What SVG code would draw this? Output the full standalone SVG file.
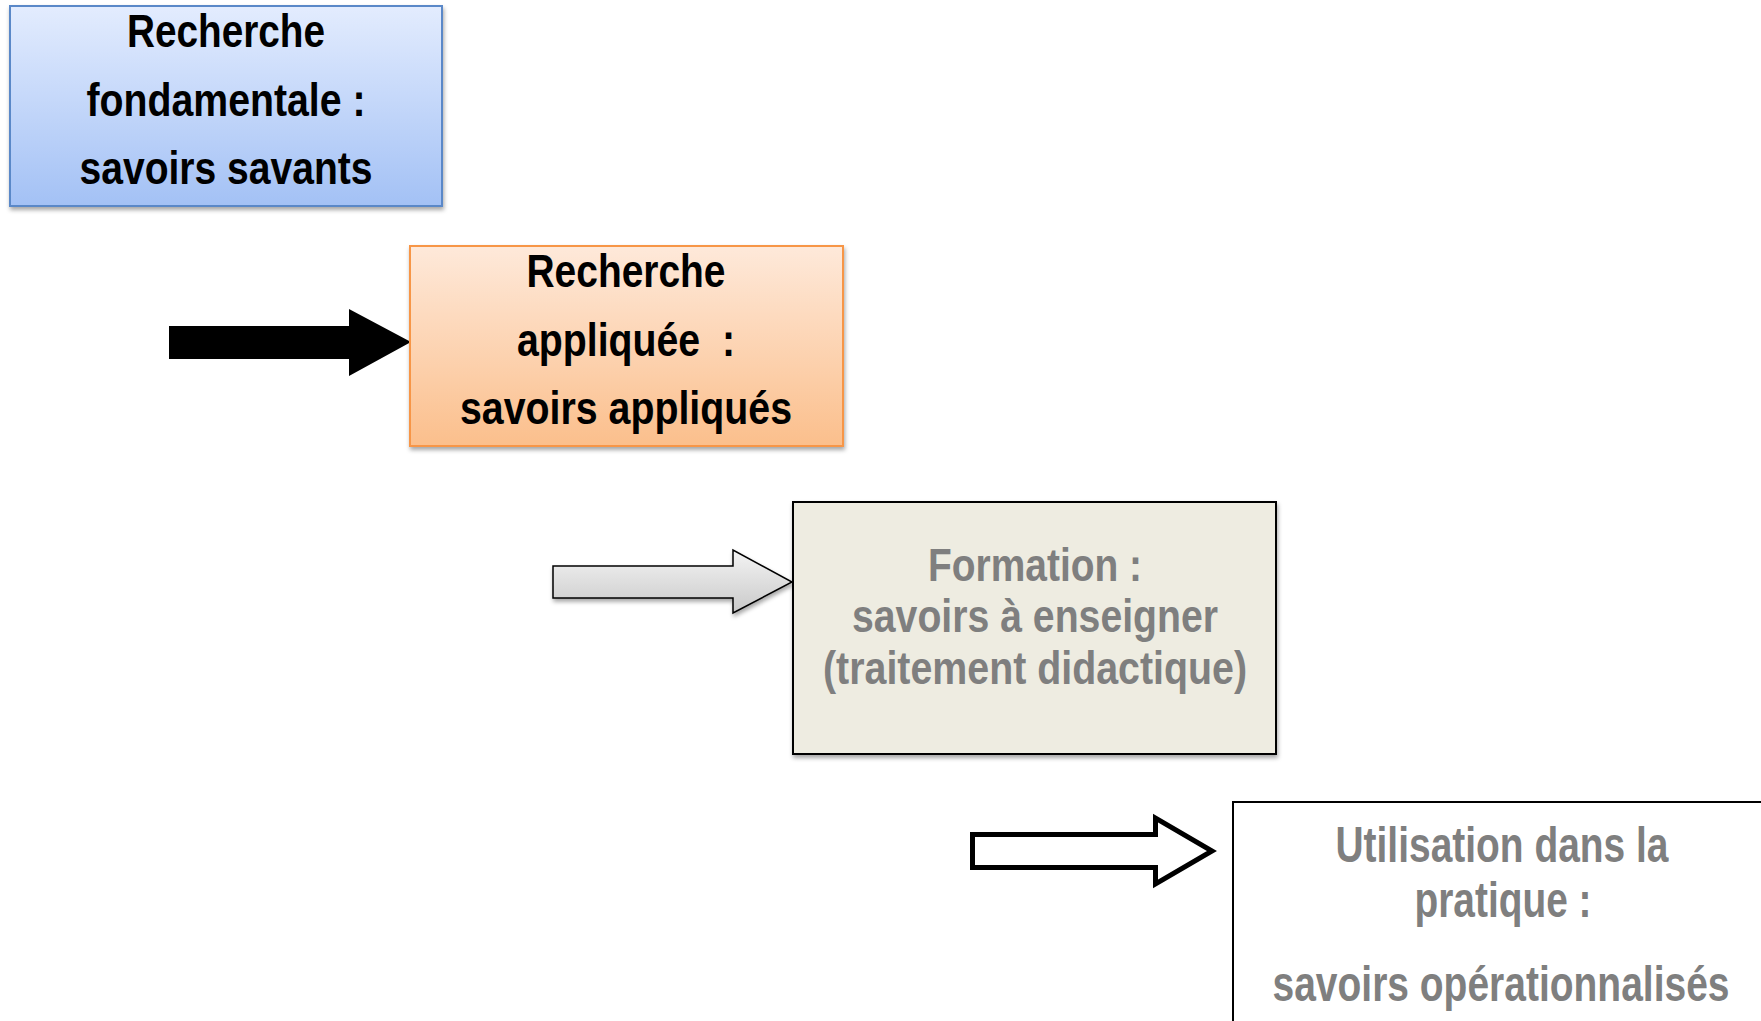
<svg xmlns="http://www.w3.org/2000/svg" width="1761" height="1021" viewBox="0 0 1761 1021">
  <style>
    .lbl { font-family: "Liberation Sans Narrow", "Liberation Sans", "Arial Narrow", Arial, sans-serif; font-weight: bold; font-size: 47px; text-anchor: middle; }
    .big { font-size: 50px; }
    .dark { fill: #000000; }
    .grey { fill: #7f7f7f; }
  </style>
  <defs>
    <linearGradient id="gBlue" x1="0" y1="0" x2="0" y2="1">
      <stop offset="0" stop-color="#e3ecfe"/>
      <stop offset="1" stop-color="#a3c1f5"/>
    </linearGradient>
    <linearGradient id="gOrange" x1="0" y1="0" x2="0" y2="1">
      <stop offset="0" stop-color="#fee9da"/>
      <stop offset="1" stop-color="#fbbf8c"/>
    </linearGradient>
    <linearGradient id="gGrey" x1="0" y1="0" x2="0" y2="1">
      <stop offset="0" stop-color="#f4f4f4"/>
      <stop offset="1" stop-color="#c9c9c9"/>
    </linearGradient>
    <filter id="shadow" x="-10%" y="-10%" width="120%" height="130%">
      <feDropShadow dx="1" dy="3" stdDeviation="2" flood-color="#000000" flood-opacity="0.35"/>
    </filter>
  </defs>

  <!-- connectors: block arrows leading into each stage -->
  <g id="connectors">
    <polygon id="arrow-1" points="169,326 349,326 349,309 411,342 349,376 349,359 169,359" fill="#000000"/>
    <polygon id="arrow-2" points="553,566 733,566 733,550 792,582 733,613 733,598 553,598" fill="url(#gGrey)" stroke="#000000" stroke-width="1.5" filter="url(#shadow)"/>
    <polygon id="arrow-3" points="972.5,834.5 1155.5,834.5 1155.5,818 1212,851 1155.5,884 1155.5,867.5 972.5,867.5" fill="#ffffff" stroke="#000000" stroke-width="5" stroke-linejoin="miter"/>
  </g>

  <!-- stage 1 -->
  <g id="node-fondamentale">
    <rect x="10" y="6" width="432" height="200" fill="url(#gBlue)" stroke="#5a88c8" stroke-width="2" filter="url(#shadow)"/>
    <text class="lbl dark" x="226" y="47" textLength="198" lengthAdjust="spacingAndGlyphs">Recherche</text>
    <text class="lbl dark" x="226" y="116" textLength="279" lengthAdjust="spacingAndGlyphs">fondamentale :</text>
    <text class="lbl dark" x="226" y="184" textLength="293" lengthAdjust="spacingAndGlyphs">savoirs savants</text>
  </g>

  <!-- stage 2 -->
  <g id="node-appliquee">
    <rect x="410" y="246" width="433" height="200" fill="url(#gOrange)" stroke="#f79646" stroke-width="2" filter="url(#shadow)"/>
    <text class="lbl dark" x="626" y="287" textLength="199" lengthAdjust="spacingAndGlyphs">Recherche</text>
    <text class="lbl dark" x="626" y="356" textLength="218" lengthAdjust="spacingAndGlyphs" xml:space="preserve">appliquée  :</text>
    <text class="lbl dark" x="626" y="424" textLength="332" lengthAdjust="spacingAndGlyphs">savoirs appliqués</text>
  </g>

  <!-- stage 3 -->
  <g id="node-formation">
    <rect x="793" y="502" width="483" height="252" fill="#eeece1" stroke="#000000" stroke-width="2" filter="url(#shadow)"/>
    <text class="lbl grey" x="1035" y="581" textLength="214" lengthAdjust="spacingAndGlyphs">Formation :</text>
    <text class="lbl grey" x="1035" y="632" textLength="366" lengthAdjust="spacingAndGlyphs">savoirs à enseigner</text>
    <text class="lbl grey" x="1035" y="684" textLength="424" lengthAdjust="spacingAndGlyphs">(traitement didactique)</text>
  </g>

  <!-- stage 4 (runs past the right and bottom edges) -->
  <g id="node-pratique">
    <rect x="1233" y="802" width="600" height="260" fill="#ffffff" stroke="#000000" stroke-width="2"/>
    <text class="lbl big grey" x="1502" y="862" textLength="333" lengthAdjust="spacingAndGlyphs">Utilisation dans la</text>
    <text class="lbl big grey" x="1503" y="917" textLength="177" lengthAdjust="spacingAndGlyphs">pratique :</text>
    <text class="lbl big grey" x="1501" y="1001" textLength="457" lengthAdjust="spacingAndGlyphs">savoirs opérationnalisés</text>
  </g>
</svg>
